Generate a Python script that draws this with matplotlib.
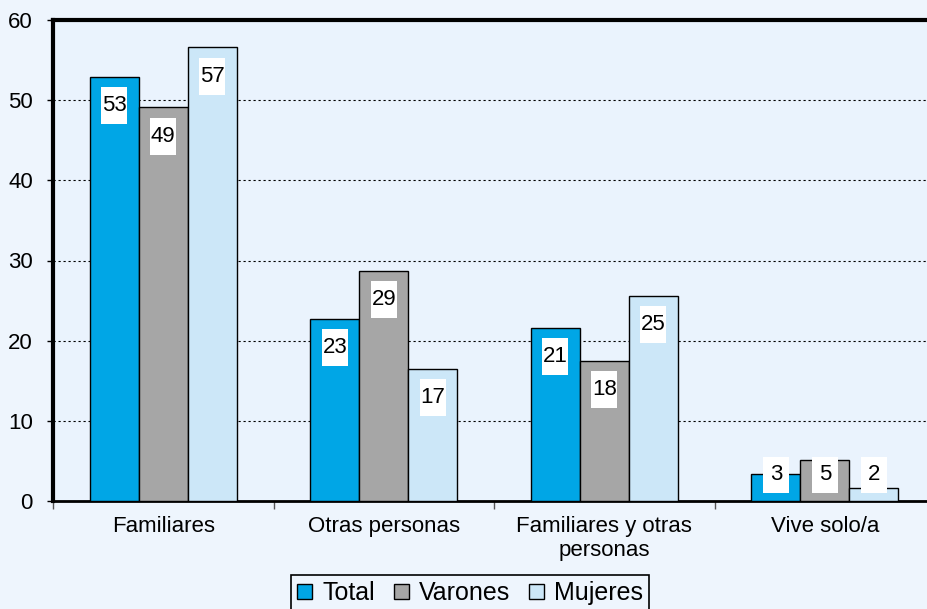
import matplotlib.pyplot as plt
import numpy as np

plt.rcParams['font.family'] = ['Liberation Sans', 'DejaVu Sans']

categorias = ['Familiares', 'Otras personas', 'Familiares y otras\npersonas', 'Vive solo/a']
total = [52.9, 22.7, 21.6, 3.4]
varones = [49.1, 28.7, 17.5, 5.1]
mujeres = [56.6, 16.5, 25.6, 1.6]
etiq_total = ['53', '23', '21', '3']
etiq_varones = ['49', '29', '18', '5']
etiq_mujeres = ['57', '17', '25', '2']

series = [('Total', total, etiq_total, '#00a6e6'),
          ('Varones', varones, etiq_varones, '#a6a6a6'),
          ('Mujeres', mujeres, etiq_mujeres, '#cce7f8')]

fig = plt.figure(figsize=(9.27, 6.09), dpi=100, facecolor='#eef5fd')
ax = fig.add_axes([53/927, 108/609, 882/927, 481/609], facecolor='#eaf3fd')

x = np.arange(len(categorias))
w = 0.222
handles = []
for i, (nombre, vals, etiq, col) in enumerate(series):
    pos = x + (i - 1) * w
    b = ax.bar(pos, vals, width=w, color=col, edgecolor='black', linewidth=1, zorder=3, label=nombre)
    handles.append(b)
    # cajas blancas con el valor
    yc = np.maximum(np.array(vals) - 3.6, 3.25)
    ax.bar(pos, 4.6, bottom=yc - 2.3, width=0.118, color='white', linewidth=0, zorder=4)
    for xp, yp, t in zip(pos, yc, etiq):
        ax.text(xp, yp, t, ha='center', va='center', fontsize=16, zorder=5)

ax.set_xlim(-0.5, 3.5)
ax.set_ylim(0, 60)
ax.set_yticks(range(0, 61, 10))
ax.yaxis.grid(True, color='black', linestyle=(0, (2, 2.5)), linewidth=0.8, zorder=1)
ax.tick_params(axis='y', labelsize=16, length=4.5, width=1, pad=10, direction='out')

ax.set_xticks(x)
ax.set_xticklabels(categorias, fontsize=16)
ax.set_xticks(np.arange(-0.5, 4, 1), minor=True)
ax.tick_params(axis='x', which='major', length=0, pad=11)
ax.tick_params(axis='x', which='minor', length=6, width=1, color='#555555', direction='out')

ax.spines['left'].set_linewidth(3)
ax.spines['top'].set_linewidth(3)
ax.spines['bottom'].set_linewidth(2)
ax.spines['right'].set_visible(False)

leg = fig.legend(handles=handles, loc='upper center', bbox_to_anchor=(470/927, 1 - 575/609),
                 ncol=3, fontsize=18, frameon=True, fancybox=False, framealpha=1,
                 edgecolor='black', facecolor='#eef5fd', handlelength=0.6, handleheight=0.6,
                 handletextpad=0.4, columnspacing=0.76, borderpad=0.25, borderaxespad=0)
leg.get_frame().set_linewidth(1.2)

fig.savefig('out.png', dpi=100, facecolor=fig.get_facecolor())
